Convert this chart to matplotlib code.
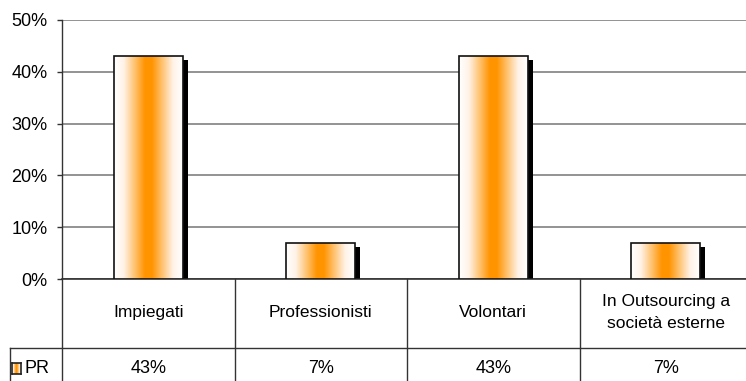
import numpy as np
import matplotlib
matplotlib.use("Agg")
import matplotlib.pyplot as plt
import matplotlib.transforms as mtransforms
from matplotlib.colors import LinearSegmentedColormap
from matplotlib.lines import Line2D

# Data
categories = ["Impiegati", "Professionisti", "Volontari", "In Outsourcing a\nsocietà esterne"]
series_name = "PR"
values = [0.43, 0.07, 0.43, 0.07]
value_labels = ["43%", "7%", "43%", "7%"]
ytick_values = [0.0, 0.1, 0.2, 0.3, 0.4, 0.5]
ytick_labels = ["0%", "10%", "20%", "30%", "40%", "50%"]

plt.rcParams["font.family"] = ["Liberation Sans", "DejaVu Sans"]

W, H = 746, 381
fig = plt.figure(figsize=(W / 100, H / 100), dpi=100)
fig.patch.set_facecolor("white")

def fy(py):
    return 1 - py / H

# Plot area: 4 category columns, each 172.5 px wide, starting at x=62
ax = fig.add_axes([62 / W, fy(279), 690 / W, 259 / H])
x = np.arange(len(categories))
bar_w = 0.4

orange_cmap = LinearSegmentedColormap.from_list(
    "bar_grad", [(0.0, "#ffffff"), (0.14, "#fff3e8"), (0.45, "#ff9400"),
                 (0.55, "#ff9400"), (0.86, "#fff3e8"), (1.0, "#ffffff")])
grad = np.linspace(0, 1, 256).reshape(1, -1)

# Drop shadows
shadow_tr = ax.transData + mtransforms.ScaledTranslation(5 / 100, -4 / 100, fig.dpi_scale_trans)
ax.bar(x, values, bar_w, color="black", linewidth=0, zorder=2, transform=shadow_tr)

# Bars with a horizontal white-orange-white gradient
bars = ax.bar(x, values, bar_w, facecolor="none", edgecolor="#111111", linewidth=1.2, zorder=4)
for rect in bars:
    x0 = rect.get_x()
    im = ax.imshow(grad, extent=[x0, x0 + rect.get_width(), 0, rect.get_height()],
                   aspect="auto", cmap=orange_cmap, zorder=3, interpolation="bilinear")
    im.set_clip_path(rect)

ax.set_xlim(-0.5, len(categories) - 0.5)
ax.set_ylim(0, 0.5)
ax.set_yticks(ytick_values)
ax.set_yticklabels(ytick_labels, fontsize=13)
ax.set_xticks([])
ax.tick_params(axis="y", length=3.6, width=1, color="#333333", pad=7)
ax.yaxis.grid(True, color="#808080", linewidth=1.2)
ax.set_axisbelow(True)
for s in ["top", "right", "left"]:
    ax.spines[s].set_visible(False)
ax.spines["bottom"].set_color("#222222")
ax.spines["bottom"].set_linewidth(1.1)
ax.set_facecolor("none")

# Data table below the chart
line_kw = dict(color="#333333", linewidth=1.0)
bt = mtransforms.blended_transform_factory(ax.transData, fig.transFigure)
# Value axis line running through the table
fig.add_artist(Line2D([62 / W, 62 / W], [fy(20), 0], transform=fig.transFigure, **line_kw))
# Column separators
for b in x[1:] - 0.5:
    fig.add_artist(Line2D([b, b], [fy(279), 0], transform=bt, **line_kw))
# Row separator and left edge of the series cell
fig.add_artist(Line2D([10 / W, 1], [fy(347.5), fy(347.5)], transform=fig.transFigure, **line_kw))
fig.add_artist(Line2D([10 / W, 10 / W], [fy(347.5), 0], transform=fig.transFigure, **line_kw))

for xi, cat, lab in zip(x, categories, value_labels):
    fig.text(xi, fy(312.5), cat, transform=bt, ha="center", va="center",
             fontsize=12.5, linespacing=1.55)
    fig.text(xi, fy(368.5), lab, transform=bt, ha="center", va="center", fontsize=13)

# Series key in the table
key_ax = fig.add_axes([12 / W, fy(373.5), 9 / W, 10.5 / H])
key_ax.imshow(grad, aspect="auto", cmap=orange_cmap, interpolation="bilinear")
key_ax.set_xticks([])
key_ax.set_yticks([])
for sp in key_ax.spines.values():
    sp.set_color("#222222")
    sp.set_linewidth(1.2)
fig.text(25 / W, fy(368.5), series_name, ha="left", va="center", fontsize=13)

fig.savefig("out.png", dpi=100)
